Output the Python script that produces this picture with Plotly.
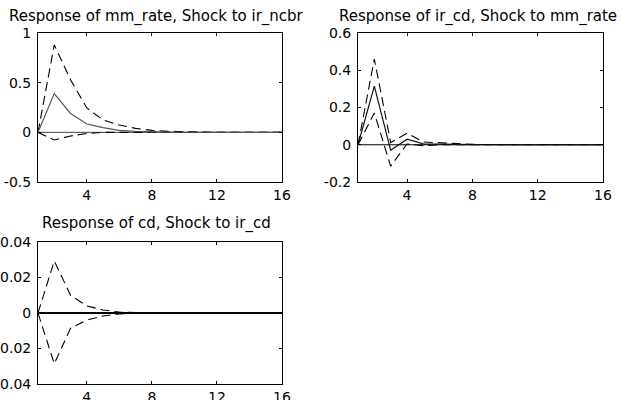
import plotly.graph_objects as go

# Impulse-response horizon
periods = list(range(1, 17))

# Response of mm_rate to a shock in ir_ncbr
mm_resp = [0, 0.39, 0.19, 0.084, 0.047, 0.02, 0.01, 0.004, 0.002, 0.001, 0, 0, 0, 0, 0, 0]
mm_upper = [0, 0.88, 0.53, 0.245, 0.124, 0.074, 0.04, 0.02, 0.01, 0.005, 0.002, 0, 0, 0, 0, 0]
mm_lower = [0, -0.077, -0.037, -0.012, 0, 0, 0, 0, 0, 0, 0, 0, 0, 0, 0, 0]

# Response of ir_cd to a shock in mm_rate
ir_resp = [0, 0.315, -0.03, 0.03, 0.005, 0.005, 0.003, 0.001, 0, 0, 0, 0, 0, 0, 0, 0]
ir_upper = [0, 0.46, 0.012, 0.062, 0.015, 0.01, 0.005, 0.002, 0.001, 0, 0, 0, 0, 0, 0, 0]
ir_lower = [0, 0.17, -0.115, 0.004, -0.005, 0, 0, 0, 0, 0, 0, 0, 0, 0, 0, 0]

# Response of cd to a shock in ir_cd
cd_resp = [0] * 16
cd_upper = [0, 0.0293, 0.010, 0.004, 0.0017, 0.0005, 0.0002, 0, 0, 0, 0, 0, 0, 0, 0, 0]
cd_lower = [0, -0.0286, -0.0086, -0.004, -0.0017, -0.0005, -0.0002, 0, 0, 0, 0, 0, 0, 0, 0, 0]

titles = [
    "Response of mm_rate, Shock to ir_ncbr",
    "Response of ir_cd, Shock to mm_rate",
    "Response of cd, Shock to ir_cd",
]
x_ticks = [4, 8, 12, 16]
y_ticks = [
    [1, 0.5, 0, -0.5],
    [0.6, 0.4, 0.2, 0, -0.2],
    [0.04, 0.02, 0, -0.02, -0.04],
]
y_tick_text = [
    ["1", "0.5", "0", "-0.5"],
    ["0.6", "0.4", "0.2", "0", "-0.2"],
    ["0.04", "0.02", "0", "-0.02", "-0.04"],
]
y_ranges = [[-0.5, 1], [-0.2, 0.6], [-0.04, 0.04]]

FONT = "DejaVu Sans"
W, H = 622, 400

panels = [
    dict(resp=mm_resp, up=mm_upper, lo=mm_lower, xa="x", ya="y",
         xdom=[38 / W, 282 / W], ydom=[1 - 182 / H, 1 - 33 / H],
         title_y=1 - 17 / H, resp_color="#555555", resp_width=1.2, zero_color="#444444"),
    dict(resp=ir_resp, up=ir_upper, lo=ir_lower, xa="x2", ya="y2",
         xdom=[358 / W, 603 / W], ydom=[1 - 182 / H, 1 - 33 / H],
         title_y=1 - 17 / H, resp_color="#111111", resp_width=1.2, zero_color="#000000"),
    dict(resp=cd_resp, up=cd_upper, lo=cd_lower, xa="x3", ya="y3",
         xdom=[38 / W, 282 / W], ydom=[1 - 384 / H, 1 - 242 / H],
         title_y=1 - 223 / H, resp_color="#000000", resp_width=2.2, zero_color="#000000"),
]

fig = go.Figure()
dash_style = "9px,5px"

for i, p in enumerate(panels):
    zeros = [0] * len(periods)
    fig.add_trace(go.Scatter(x=periods, y=zeros, mode="lines", xaxis=p["xa"], yaxis=p["ya"],
                             line=dict(color=p["zero_color"], width=1), showlegend=False,
                             hoverinfo="skip"))
    fig.add_trace(go.Scatter(x=periods, y=p["up"], mode="lines", xaxis=p["xa"], yaxis=p["ya"],
                             line=dict(color="#000000", width=1.1, dash=dash_style),
                             showlegend=False))
    fig.add_trace(go.Scatter(x=periods, y=p["lo"], mode="lines", xaxis=p["xa"], yaxis=p["ya"],
                             line=dict(color="#000000", width=1.1, dash=dash_style),
                             showlegend=False))
    fig.add_trace(go.Scatter(x=periods, y=p["resp"], mode="lines", xaxis=p["xa"], yaxis=p["ya"],
                             line=dict(color=p["resp_color"], width=p["resp_width"]),
                             showlegend=False))

    suffix = "" if i == 0 else str(i + 1)
    axis_common = dict(showline=True, linecolor="#000000", linewidth=1, mirror="ticks",
                       ticks="inside", ticklen=3, tickcolor="#000000", showgrid=False,
                       zeroline=False, tickfont=dict(family=FONT, size=14, color="#000000"),
                       automargin=False)
    fig.update_layout(**{
        "xaxis" + suffix: dict(domain=p["xdom"], range=[1, 16], tickvals=x_ticks,
                               ticktext=[str(t) for t in x_ticks], anchor="y" + suffix,
                               ticklabelstandoff=0, **axis_common),
        "yaxis" + suffix: dict(domain=p["ydom"], range=y_ranges[i], tickvals=y_ticks[i],
                               ticktext=y_tick_text[i], anchor="x" + suffix,
                               ticklabelstandoff=3, **axis_common),
    })
    fig.add_annotation(text=titles[i], xref="paper", yref="paper",
                       x=(p["xdom"][0] + p["xdom"][1]) / 2 - 3 / W, y=p["title_y"],
                       xanchor="center", yanchor="middle", showarrow=False,
                       font=dict(family=FONT, size=15, color="#000000"))

fig.update_layout(width=W, height=H, margin=dict(l=0, r=0, t=0, b=0),
                  paper_bgcolor="#ffffff", plot_bgcolor="#ffffff")

fig.write_html("out.html")
